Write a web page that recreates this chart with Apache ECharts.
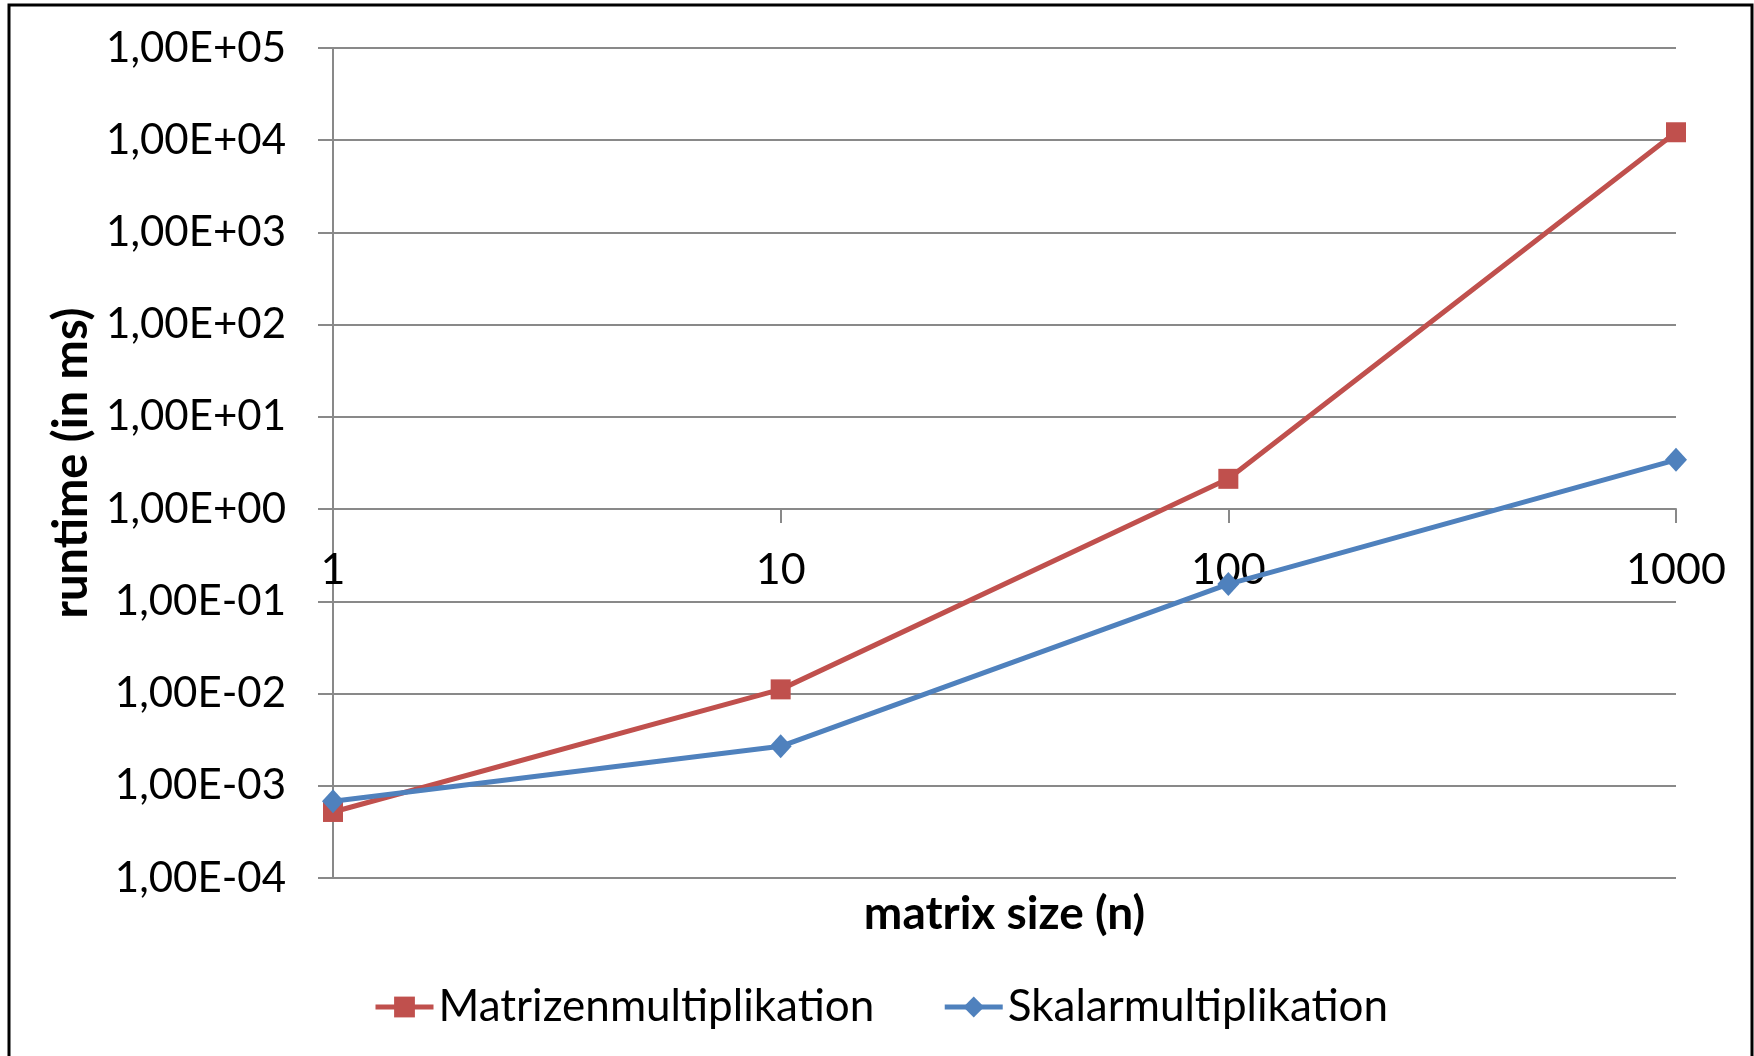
<!DOCTYPE html>
<html>
<head>
<meta charset="utf-8">
<script src="https://cdn.jsdelivr.net/npm/echarts@6/dist/echarts.min.js"></script>
<style>
  html, body { margin: 0; padding: 0; background: #fff; }
  #chart { width: 1754px; height: 1056px; }
</style>
</head>
<body>
<div id="chart"></div>
<script>
// matrix sizes (x categories)
const sizes = ['1', '10', '100', '1000']
// runtimes in ms
const matrixMult = [5.2e-4, 1.11e-2, 2.13, 1.22e4]
const scalarMult = [6.8e-4, 2.68e-3, 0.154, 3.42]
// y tick labels, from 1E-04 up to 1E+05
const yTickLabels = ['1,00E-04', '1,00E-03', '1,00E-02', '1,00E-01', '1,00E+00',
  '1,00E+01', '1,00E+02', '1,00E+03', '1,00E+04', '1,00E+05']

const FONT = 'Lato'
const GRID_COLOR = '#898989'
const gridTop = 48
const gridHeight = 830
// x axis crosses at 1,00E+00 -> 4 of 9 decades above the bottom
const xOffset = -gridHeight * 4 / 9

const chart = echarts.init(document.getElementById('chart'), null, { renderer: 'canvas' })

const option = {
  backgroundColor: '#ffffff',
  animation: false,
  textStyle: { fontFamily: FONT, color: '#000' },
  graphic: [{
    type: 'rect',
    shape: { x: 9, y: 5, width: 1743, height: 1100 },
    style: { fill: 'none', stroke: '#000', lineWidth: 3 },
    silent: true
  }],
  grid: {
    left: 333,
    top: gridTop,
    width: 1343,
    height: gridHeight
  },
  legend: {
    left: 368,
    top: 980,
    itemWidth: 58,
    itemHeight: 26,
    itemGap: 68,
    lineStyle: { width: 5 },
    textStyle: { fontFamily: FONT, fontSize: 44, color: '#000' },
    data: ['Matrizenmultiplikation', 'Skalarmultiplikation']
  },
  xAxis: [{
    type: 'category',
    data: sizes,
    boundaryGap: false,
    position: 'bottom',
    offset: xOffset,
    axisLine: { show: true, lineStyle: { color: GRID_COLOR, width: 2 } },
    axisTick: { show: true, length: 14, lineStyle: { color: GRID_COLOR, width: 2 } },
    axisLabel: { fontFamily: FONT, fontSize: 43, color: '#000', margin: 40 },
    splitLine: { show: false }
  }, {
    type: 'category',
    data: sizes,
    boundaryGap: false,
    position: 'bottom',
    axisLine: { show: false },
    axisTick: { show: false },
    axisLabel: { show: false },
    splitLine: { show: false },
    name: 'matrix size (n)',
    nameLocation: 'middle',
    nameGap: 13,
    nameTextStyle: { fontFamily: FONT, fontSize: 46, fontWeight: 'bold', color: '#000' }
  }],
  yAxis: {
    type: 'log',
    logBase: 10,
    min: 1e-4,
    max: 1e5,
    name: 'runtime (in ms)',
    nameLocation: 'middle',
    nameRotate: 90,
    nameGap: 236,
    nameTextStyle: { fontFamily: FONT, fontSize: 47, fontWeight: 'bold', color: '#000' },
    axisLine: { show: true, lineStyle: { color: GRID_COLOR, width: 2 } },
    axisTick: { show: true, length: 15, lineStyle: { color: GRID_COLOR, width: 2 } },
    axisLabel: {
      fontFamily: FONT,
      fontSize: 42,
      color: '#000',
      margin: 47,
      formatter: (v) => yTickLabels[Math.round(Math.log10(v)) + 4]
    },
    splitLine: { show: true, lineStyle: { color: GRID_COLOR, width: 2 } }
  },
  series: [
    {
      name: 'Matrizenmultiplikation',
      type: 'line',
      xAxisIndex: 0,
      data: matrixMult,
      symbol: 'rect',
      symbolSize: 20,
      color: '#C0504D',
      lineStyle: { width: 5, color: '#C0504D' },
      itemStyle: { color: '#C0504D' }
    },
    {
      name: 'Skalarmultiplikation',
      type: 'line',
      xAxisIndex: 0,
      data: scalarMult,
      symbol: 'diamond',
      symbolSize: [22, 24],
      color: '#4F81BD',
      lineStyle: { width: 5, color: '#4F81BD' },
      itemStyle: { color: '#4F81BD' }
    }
  ]
}

chart.setOption(option)
</script>
</body>
</html>
